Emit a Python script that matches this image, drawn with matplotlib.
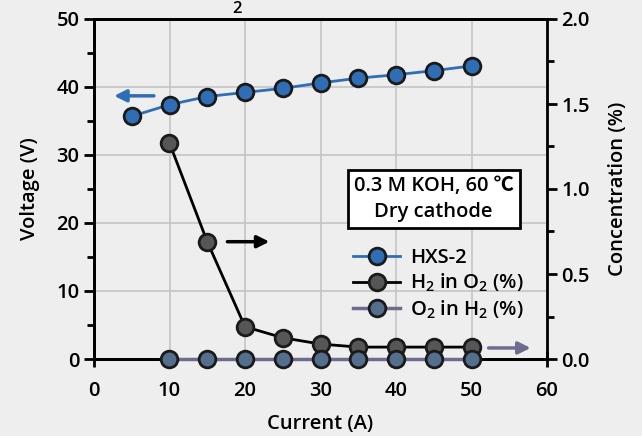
import matplotlib
matplotlib.use("Agg")
import matplotlib.pyplot as plt
from matplotlib.ticker import MultipleLocator
from matplotlib.lines import Line2D

plt.rcParams['font.family'] = ['Open Sans', 'Noto Sans CJK SC', 'DejaVu Sans']
plt.rcParams['font.weight'] = 'semibold'
plt.rcParams['axes.labelweight'] = 'semibold'
plt.rcParams['mathtext.fontset'] = 'custom'
plt.rcParams['mathtext.rm'] = 'Open Sans:semibold'
plt.rcParams['mathtext.it'] = 'Open Sans:semibold'

current_v = [5, 10, 15, 20, 25, 30, 35, 40, 45, 50]
voltage = [35.7, 37.4, 38.6, 39.2, 39.8, 40.6, 41.3, 41.8, 42.4, 43.1]
current_c = [10, 15, 20, 25, 30, 35, 40, 45, 50]
h2_in_o2 = [1.27, 0.69, 0.19, 0.125, 0.088, 0.07, 0.07, 0.07, 0.07]
o2_in_h2 = [0, 0, 0, 0, 0, 0, 0, 0, 0]

bg = '#edeeed'
blue = '#2f6db5'
dark = '#565656'
purple_line = '#6e6b8e'
purple_fill = '#546e8e'

fig = plt.figure(figsize=(6.42, 4.36), dpi=100, facecolor=bg)
ax = fig.add_axes([94/642, 1-359/436, (547-94)/642, (359-19)/436])
ax.set_facecolor(bg)
ax2 = ax.twinx()

ms = 12
mew = 2.0
ax.plot(current_v, voltage, '-o', color=blue, lw=2, ms=ms, mfc=blue, mec='#1a1a1a', mew=mew, zorder=5, clip_on=False)
ax2.plot(current_c, h2_in_o2, '-o', color='black', lw=2, ms=ms, mfc=dark, mec='#1a1a1a', mew=mew, zorder=4, clip_on=False)
ax2.plot(current_c, o2_in_h2, '-o', color=purple_line, lw=2.5, ms=ms, mfc=purple_fill, mec='#1a1a1a', mew=mew, zorder=5, clip_on=False)

ax.set_xlim(0, 60)
ax.set_ylim(0, 50)
ax2.set_ylim(0, 2.0)
ax.xaxis.set_major_locator(MultipleLocator(10))
ax.yaxis.set_major_locator(MultipleLocator(10))
ax.yaxis.set_minor_locator(MultipleLocator(5))
ax2.yaxis.set_major_locator(MultipleLocator(0.5))
ax2.yaxis.set_minor_locator(MultipleLocator(0.25))
ax2.yaxis.set_major_formatter(matplotlib.ticker.FormatStrFormatter('%.1f'))

ax.grid(True, color='#c4c4c4', lw=1.2)
ax.set_axisbelow(True)
for a in (ax, ax2):
    for s in a.spines.values():
        s.set_linewidth(2)
        s.set_color('black')
ax.spines['right'].set_visible(False)

fs_tick = 14.5
fs_lab = 14.5
ax.tick_params(axis='x', which='major', direction='inout', length=12, width=2, labelsize=fs_tick, pad=10)
ax.tick_params(axis='y', which='major', direction='out', length=7, width=2, labelsize=fs_tick)
ax.tick_params(axis='y', which='minor', direction='out', length=5, width=2)
ax2.tick_params(axis='y', which='major', direction='out', length=7, width=2, labelsize=fs_tick)
ax2.tick_params(axis='y', which='minor', direction='out', length=5, width=2)

ax.set_xlabel('Current (A)', fontsize=fs_lab, labelpad=9.5)
ax.set_ylabel('Voltage (V)', fontsize=fs_lab, labelpad=12)
ax2.set_ylabel('Concentration (%)', fontsize=fs_lab, labelpad=13)

# arrows
ax.annotate('', xy=(2.3, 38.7), xytext=(8.3, 38.7),
            arrowprops=dict(arrowstyle='-|>', color=blue, lw=2.5, mutation_scale=18), zorder=6)
ax2.annotate('', xy=(23.6, 0.69), xytext=(17.3, 0.69),
             arrowprops=dict(arrowstyle='-|>', color='black', lw=2.5, mutation_scale=18), zorder=6)
ax2.annotate('', xy=(58.2, 0.065), xytext=(51.9, 0.065),
             arrowprops=dict(arrowstyle='-|>', color=purple_line, lw=2.5, mutation_scale=18), zorder=6, annotation_clip=False)

ax2.text(0.75, 0.402, '0.3 M KOH, 60 \u2103\nDry cathode', transform=ax.transAxes,
         ha='center', va='bottom', fontsize=fs_lab, linespacing=1.45, zorder=7,
         bbox=dict(boxstyle='square,pad=0.3', fc='white', ec='black', lw=2))

handles = [
    Line2D([], [], color=blue, lw=2, marker='o', ms=ms, mfc=blue, mec='#1a1a1a', mew=mew),
    Line2D([], [], color='black', lw=2, marker='o', ms=ms, mfc=dark, mec='#1a1a1a', mew=mew),
    Line2D([], [], color=purple_line, lw=2.5, marker='o', ms=ms, mfc=purple_fill, mec='#1a1a1a', mew=mew),
]
labels = ['HXS-2', 'H$_2$ in O$_2$ (%)', 'O$_2$ in H$_2$ (%)']
leg = ax2.legend(handles, labels, loc='upper left', bbox_to_anchor=(0.555, 0.35),
                 frameon=False, fontsize=fs_lab, handlelength=2.3, handletextpad=0.5,
                 labelspacing=0.2, borderaxespad=0)
leg.set_zorder(8)

fig.text(237/642, 1 - 1/436, '2', fontsize=12, ha='center', va='top')

fig.savefig('out.png', dpi=100, facecolor=bg)
